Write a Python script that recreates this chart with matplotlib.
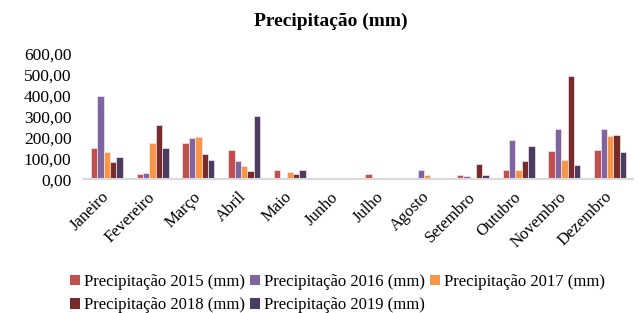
import numpy as np
import matplotlib
matplotlib.use('Agg')
import matplotlib.pyplot as plt
from matplotlib.patches import Patch
from matplotlib.ticker import FuncFormatter

plt.rcParams['font.family'] = ['Liberation Serif', 'DejaVu Serif']

# Data (mm)
meses = ['Janeiro', 'Fevereiro', 'Março', 'Abril', 'Maio', 'Junho',
         'Julho', 'Agosto', 'Setembro', 'Outubro', 'Novembro', 'Dezembro']
p2015 = [147, 24, 174, 138, 46, 0, 27, 0, 21, 44, 133, 141]
p2016 = [399, 30, 195, 89, 3, 1.5, 0, 46, 14, 189, 238, 241]
p2017 = [131, 171, 200, 62, 33, 0, 1, 21, 0, 44, 92, 204]
p2018 = [84, 260, 122, 40, 24, 1.5, 0, 5, 71, 86, 491, 212]
p2019 = [105, 147, 92, 300, 43, 0, 0, 0, 21, 160, 67, 130]

series = [
    ('Precipitação 2015 (mm)', p2015, '#C0504D'),
    ('Precipitação 2016 (mm)', p2016, '#8064A2'),
    ('Precipitação 2017 (mm)', p2017, '#F79646'),
    ('Precipitação 2018 (mm)', p2018, '#772C2A'),
    ('Precipitação 2019 (mm)', p2019, '#4D3B62'),
]

fig = plt.figure(figsize=(6.44, 3.13), dpi=100)
ax = fig.add_axes([0.1304, 0.4271, 0.8525, 0.4026])

x = np.arange(len(meses))
w = 0.139
for i, (lbl, vals, col) in enumerate(series):
    ax.bar(x + (i - 2) * w, vals, width=w, color=col,
           edgecolor='#F2E6EE', linewidth=0.5, label=lbl)

ax.set_xlim(-0.5, 11.5)
ax.set_ylim(0, 600)
ax.set_yticks(np.arange(0, 601, 100))
ax.yaxis.set_major_formatter(FuncFormatter(lambda v, _: f'{v:.2f}'.replace('.', ',')))
ax.tick_params(axis='y', length=0, pad=9, labelsize=12.5)
ax.tick_params(axis='x', length=0, pad=11, labelsize=12)
ax.set_xticks(x)
ax.set_xticklabels(meses, rotation=45, ha='right', va='center', rotation_mode='anchor')

for s in ['top', 'right', 'left']:
    ax.spines[s].set_visible(False)
ax.spines['bottom'].set_color('#D9D9D9')
ax.spines['bottom'].set_linewidth(1.5)

fig.text(0.513, 0.933, 'Precipitação (mm)', ha='center', va='center',
         fontsize=14, fontweight='bold')

# legend fills row by row in the reference: reorder for matplotlib's column fill
handles = [Patch(facecolor=c, edgecolor='none', label=l) for l, _, c in series]
handles = [handles[0], handles[3], handles[1], handles[4], handles[2]]
fig.legend(handles=handles, loc='upper left', bbox_to_anchor=(0.108, 0.125),
           ncol=3, frameon=False, fontsize=12, handlelength=0.6, handleheight=0.6,
           handletextpad=0.25, columnspacing=0.3, labelspacing=0.45, borderpad=0,
           borderaxespad=0)

fig.savefig('out.png', dpi=100)
